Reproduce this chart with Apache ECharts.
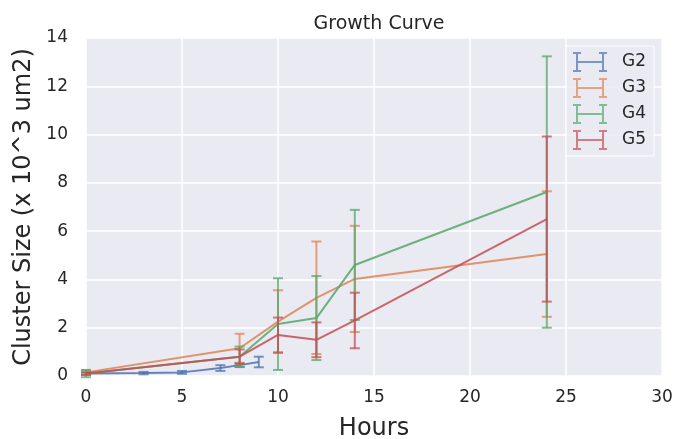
<!DOCTYPE html>
<html>
<head>
<meta charset="utf-8">
<script src="https://cdn.jsdelivr.net/npm/echarts@6/dist/echarts.min.js"></script>
<style>
  html, body { margin: 0; padding: 0; background: #fff; }
  #chart { width: 675px; height: 439px; }
</style>
</head>
<body>
<div id="chart"></div>
<script>
const groups = ['G2', 'G3', 'G4', 'G5']
const colors = ['#4C72B0', '#DD8452', '#55A868', '#C44E52']

const g2Hours = [0, 3, 5, 7, 8, 9]
const g2Mean = [0.1, 0.12, 0.15, 0.33, 0.45, 0.58]
const g2Err = [0.05, 0.05, 0.06, 0.12, 0.08, 0.22]

const g3Hours = [0, 8, 10, 12, 14, 24]
const g3Mean = [0.15, 1.15, 2.25, 3.24, 4.02, 5.05]
const g3Err = [0.1, 0.6, 1.3, 2.33, 2.2, 2.6]

const g4Hours = [0, 8, 10, 12, 14, 24]
const g4Mean = [0.1, 0.8, 2.15, 2.4, 4.6, 7.62]
const g4Err = [0.15, 0.42, 1.9, 1.74, 2.28, 5.62]

const g5Hours = [0, 8, 10, 12, 14, 24]
const g5Mean = [0.1, 0.8, 1.7, 1.5, 2.3, 6.5]
const g5Err = [0.05, 0.3, 0.72, 0.72, 1.15, 3.42]

const groupData = [
  [g2Hours, g2Mean, g2Err],
  [g3Hours, g3Mean, g3Err],
  [g4Hours, g4Mean, g4Err],
  [g5Hours, g5Mean, g5Err]
]

const textColor = '#262626'
// errorbar-style legend glyph: capped bars at both ends joined by a line
const errIcon = 'path://M0,0h8v2h-8z M0,18h8v2h-8z M3,0h2v20h-2z' +
  ' M26,0h8v2h-8z M26,18h8v2h-8z M29,0h2v20h-2z M4,9h26v2h-26z'

function errorBarRender(color) {
  return function (params, api) {
    const x = api.value(0)
    const lo = api.coord([x, api.value(1) - api.value(2)])
    const hi = api.coord([x, api.value(1) + api.value(2)])
    const half = 5
    const style = { stroke: color, lineWidth: 2, opacity: 0.75 }
    return {
      type: 'group',
      children: [
        { type: 'line', shape: { x1: lo[0], y1: lo[1], x2: hi[0], y2: hi[1] }, style },
        { type: 'line', shape: { x1: lo[0] - half, y1: lo[1], x2: lo[0] + half, y2: lo[1] }, style },
        { type: 'line', shape: { x1: hi[0] - half, y1: hi[1], x2: hi[0] + half, y2: hi[1] }, style }
      ]
    }
  }
}

const series = []
groups.forEach((name, i) => {
  const [hrs, mean, err] = groupData[i]
  series.push({
    name,
    type: 'line',
    data: hrs.map((h, k) => [h, mean[k]]),
    symbol: 'none',
    animation: false,
    lineStyle: { color: colors[i], width: 2, opacity: 0.85 },
    itemStyle: { color: colors[i] },
    z: 2 + i
  })
  series.push({
    name,
    type: 'custom',
    data: hrs.map((h, k) => [h, mean[k], err[k]]),
    renderItem: errorBarRender(colors[i]),
    itemStyle: { color: colors[i] },
    animation: false,
    z: 2 + i
  })
})

const chart = echarts.init(document.getElementById('chart'))
chart.setOption({
  backgroundColor: '#fff',
  textStyle: { fontFamily: 'DejaVu Sans' },
  title: {
    text: 'Growth Curve',
    left: 374,
    top: 10,
    textAlign: 'center',
    textStyle: { color: textColor, fontSize: 19, fontWeight: 'normal' }
  },
  grid: {
    left: 86, right: 13, top: 38, bottom: 63,
    outerBoundsMode: 'none',
    show: true, backgroundColor: '#EAEAF2', borderWidth: 0
  },
  legend: {
    right: 21,
    top: 46,
    orient: 'vertical',
    itemWidth: 34,
    itemHeight: 20,
    itemGap: 6,
    padding: [6, 8, 6, 7],
    backgroundColor: 'rgba(234,234,242,0.8)',
    borderColor: '#ffffff',
    borderWidth: 1,
    textStyle: { color: textColor, fontSize: 17, padding: [0, 0, 0, 10] },
    data: groups.map((g, i) => ({ name: g, icon: errIcon, itemStyle: { color: colors[i], opacity: 0.7 } }))
  },
  xAxis: {
    type: 'value',
    min: 0,
    max: 30,
    interval: 5,
    name: 'Hours',
    nameLocation: 'middle',
    nameGap: 41,
    nameTextStyle: { color: textColor, fontSize: 24 },
    axisLine: { show: false },
    axisTick: { show: false },
    axisLabel: { color: textColor, fontSize: 17, margin: 13 },
    splitLine: { lineStyle: { color: '#ffffff', width: 1.5 } }
  },
  yAxis: {
    type: 'value',
    min: 0,
    max: 14,
    interval: 2,
    name: 'Cluster Size (x 10^3 um2)',
    nameLocation: 'middle',
    nameGap: 41,
    nameTextStyle: { color: textColor, fontSize: 24 },
    axisLine: { show: false },
    axisTick: { show: false },
    axisLabel: { color: textColor, fontSize: 17, margin: 18 },
    splitLine: { lineStyle: { color: '#ffffff', width: 1.5 } }
  },
  series
})
</script>
</body>
</html>
